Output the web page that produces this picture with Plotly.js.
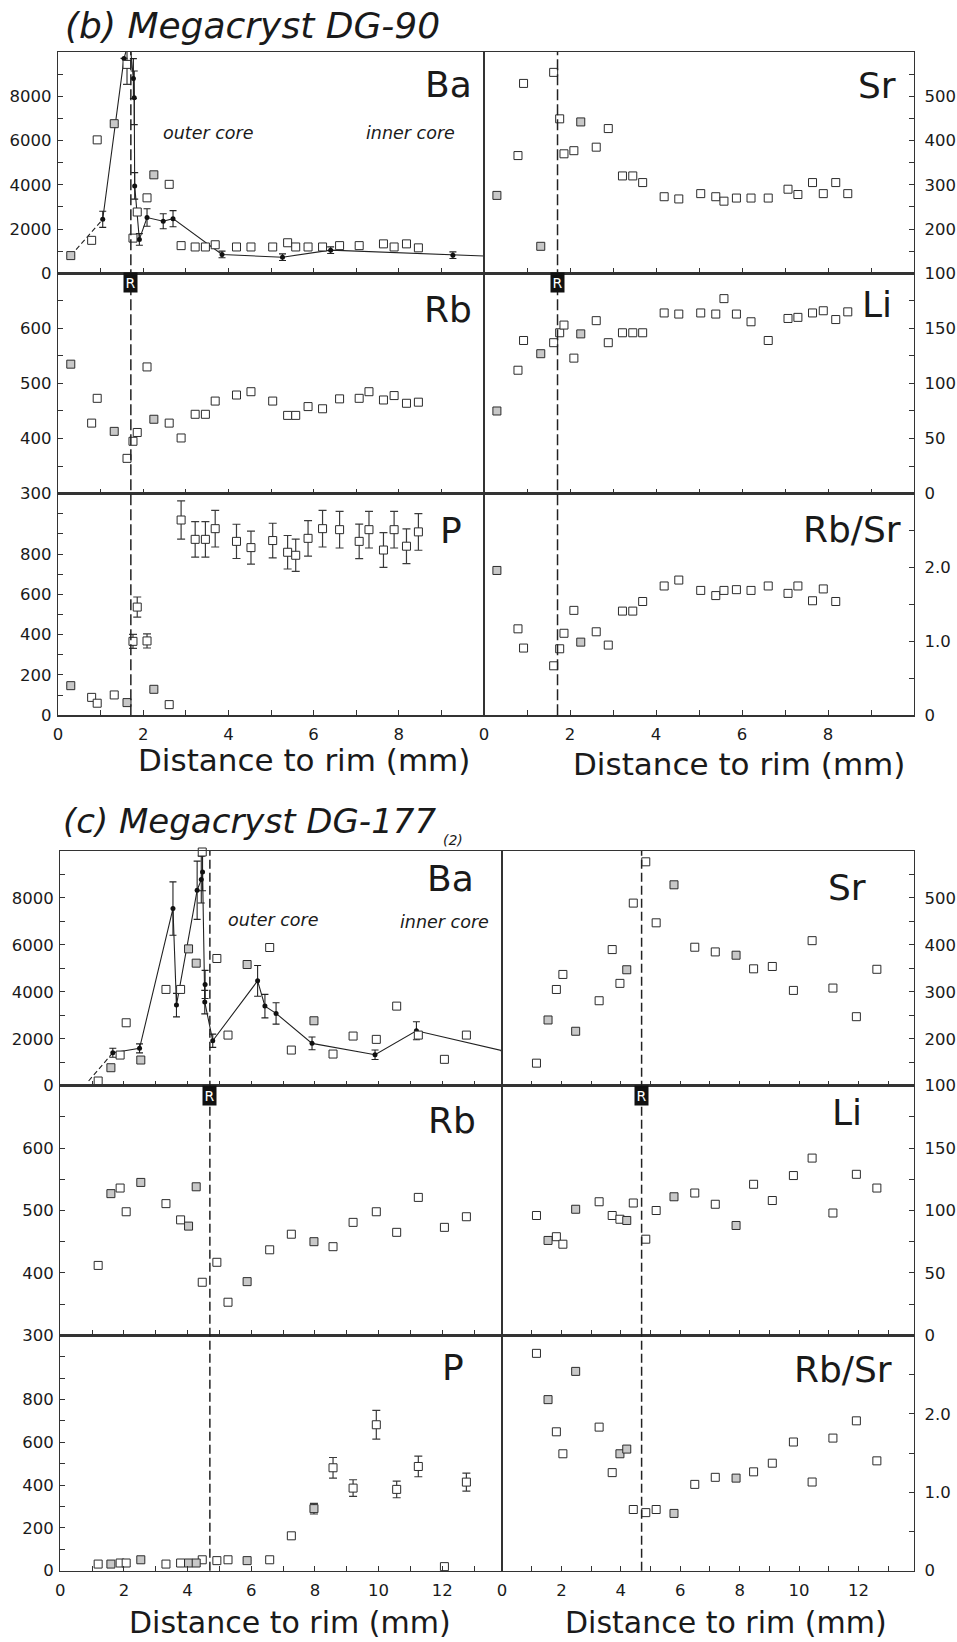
<!DOCTYPE html>
<html><head><meta charset="utf-8">
<script src="https://cdn.plot.ly/plotly-3.0.1.min.js"></script>
<style>html,body{margin:0;padding:0;background:#fff}</style>
</head><body><div id="chart" style="width:957px;height:1642px"></div>
<script>
// ---------------- (b) Megacryst DG-90 ----------------
const xB = [0.30,0.79,0.92,1.32,1.62,1.76,1.86,2.09,2.25,2.61,2.89,3.22,3.46,3.69,4.19,4.53,5.04,5.39,5.58,5.87,6.21,6.61,7.07,7.30,7.64,7.89,8.18,8.46];
const baB = [800,1490,6030,6760,9440,1590,2770,3410,4450,4020,1250,1190,1190,1290,1190,1190,1190,1380,1190,1190,1190,1250,1250,null,1330,1190,1330,1150];
const baBErr = [0,0,0,0,900,0,0,0,0,0,0,0,0,0,0,0,0,0,0,0,0,0,0,0,0,0,0,0];
const srB = [276,366,529,161,554,449,370,377,442,385,427,320,320,305,273,268,280,273,263,270,270,270,290,278,305,280,305,280];
const rbB = [535,428,473,413,364,395,411,530,435,428,401,444,444,468,479,485,468,442,442,458,454,472,473,485,470,478,464,466];
const liB = [75,112,139,127,137,146,153,123,145,157,137,146,146,146,164,163,164,163,177,163,156,139,159,160,164,166,158,165];
const pB = [147,89,60,101,63,367,537,369,129,53,969,873,873,926,863,832,867,809,794,878,926,921,863,921,820,921,839,910];
const pBErr = [0,0,0,0,0,35,50,35,0,0,95,88,88,91,85,82,86,83,80,88,91,91,86,91,86,91,86,91];
const rbsrB = [1.96,1.17,0.91,null,0.67,0.90,1.11,1.42,0.99,1.13,0.95,1.41,1.41,1.54,1.75,1.83,1.69,1.62,1.69,1.70,1.69,1.75,1.65,1.75,1.55,1.71,1.54,null];
const grayB = [0,3,8];
const grayBP = [0,4,8];
const grayBRbSr = [0,8];
// Ba profile (dots + line) for (b)
const baLineXB = [1.05,1.55,1.68,1.77,1.79,1.80,1.91,2.09,2.47,2.70,3.85,5.27,6.40,9.27,10.3];
const baLineYB = [2440,9710,10600,8800,7930,3950,1530,2520,2350,2470,850,727,1045,818,760];
const baLineErrB = [364,0,0,900,1210,600,265,394,340,364,150,150,150,150,0];
const baDashXB = [0.30,1.05];
const baDashYB = [800,2440];
const rimB = 1.71;

// ---------------- (c) Megacryst DG-177(2) ----------------
const xCL = [1.19,1.59,1.88,2.07,2.53,3.32,3.78,4.03,4.27,4.46,4.92,5.27,5.87,6.58,7.26,7.97,8.57,9.20,9.93,10.57,11.25,12.07,12.76];
const xCR = [1.16,1.55,1.83,2.05,2.48,3.27,3.71,3.97,4.20,4.42,4.84,5.19,5.79,6.49,7.18,7.88,8.47,9.10,9.81,10.44,11.14,11.93,12.62];
const baC = [200,766,1306,2681,1094,4102,4102,5829,5221,9957,5420,2157,5164,5888,1519,2766,1349,2115,1974,3391,2157,1123,2157];
const srC = [148,240,305,337,216,281,390,318,347,489,577,447,528,395,385,378,349,354,303,409,308,247,348];
const rbC = [412,527,536,498,545,511,485,475,538,385,417,353,386,437,462,450,442,481,498,465,521,473,490];
const liC = [96,76,79,73,101,107,96,93,92,106,77,100,111,114,105,88,121,108,128,142,98,129,118];
const pC = [31,31,36,36,51,31,36,36,36,51,47,51,47,51,163,290,481,386,682,380,487,19,414];
const pCErr = [0,0,0,0,0,0,0,0,0,0,0,0,0,0,0,25,48,39,67,39,48,0,42];
const rbsrC = [2.77,2.18,1.77,1.49,2.54,1.83,1.25,1.49,1.55,0.78,0.74,0.78,0.73,1.10,1.19,1.18,1.26,1.37,1.64,1.13,1.69,1.91,1.40];
const grayC = [1,4,7,8,12,15];
const grayCSrLi = [1,4,8,12,15];
const baLineXC = [1.65,2.49,3.54,3.65,4.30,4.43,4.47,4.55,4.54,4.79,6.20,6.43,6.78,7.91,9.89,11.19,13.95];
const baLineYC = [1404,1591,7548,3434,8327,8782,9106,4314,3561,1915,4468,3391,3080,1804,1319,2340,1470];
const baLineErrC = [191,191,1135,500,1240,1000,800,600,500,284,655,500,455,270,200,384,0];
const baDashXC = [0.89,1.65];
const baDashYC = [200,1404];
const rimC = 4.70;

// ---------------- tick labels ----------------
const baTickVals = [0,1000,2000,3000,4000,5000,6000,7000,8000,9000];
const baTickText = ['0','','2000','','4000','','6000','','8000',''];
const rbTickVals = [300,350,400,450,500,550,600,650];
const rbTickText = ['300','','400','','500','','600',''];
const pTickVals = [0,100,200,300,400,500,600,700,800,900,1000];
const pTickText = ['0','','200','','400','','600','','800','',''];
const srTickVals = [100,150,200,250,300,350,400,450,500,550];
const srTickText = ['100','','200','','300','','400','','500',''];
const liTickVals = [0,25,50,75,100,125,150,175];
const liTickText = ['0','','50','','100','','150',''];
const rbsrTickVals = [0,0.5,1.0,1.5,2.0,2.5];
const rbsrTickText = ['0','','1.0','','2.0',''];
const xTickValsB = [0,1,2,3,4,5,6,7,8,9];
const xTickTextB = ['0','','2','','4','','6','','8',''];
const xTickValsC = [0,1,2,3,4,5,6,7,8,9,10,11,12,13];
const xTickTextC = ['0','','2','','4','','6','','8','','10','','12',''];

// ---------------- layout helpers ----------------
const W = 957, H = 1642;
const FONT = 'DejaVu Sans';
const LINE = '#333';
const px = p => p / W;
const py = p => 1 - p / H;

const geomB = {L:[58,484], R:[484,914], rows:[[52,273.3],[273.3,493.6],[493.6,715.3]]};
const geomC = {L:[60.3,501.7], R:[502,914], rows:[[851,1085.7],[1085.7,1335.3],[1335.3,1570.7]]};

const traces = [];
const layout = {
  width: W, height: H, margin:{l:0,r:0,t:0,b:0}, paper_bgcolor:'#fff', plot_bgcolor:'rgba(0,0,0,0)',
  showlegend:false, shapes:[], annotations:[], font:{family:FONT, color:'#1a1a1a'}
};

function axName(i){ return i===1 ? '' : String(i); }

function addPanel(i, g, col, row, xr, xtv, xtt, yr, ytv, ytt, xs, vals, grayIdx, errs) {
  const n = axName(i);
  const cx = g[col], ry = g.rows[row];
  layout['xaxis'+n] = {
    domain:[px(cx[0]), px(cx[1])], range:xr, anchor:'y'+n,
    tickmode:'array', tickvals:xtv, ticktext:xtt, ticks:'inside', ticklen:5, tickwidth:1, tickcolor:LINE,
    showline:true, linecolor:LINE, linewidth:1.3, mirror:true, showgrid:false, zeroline:false,
    showticklabels: row===2, tickfont:{family:FONT, size:16.5, color:'#1a1a1a'}, ticklabelstandoff:4,
    fixedrange:true
  };
  layout['yaxis'+n] = {
    domain:[py(ry[1]), py(ry[0])], range:yr, anchor:'x'+n, side: col==='L' ? 'left' : 'right',
    tickmode:'array', tickvals:ytv, ticktext:ytt, ticks:'inside', ticklen:5, tickwidth:1, tickcolor:LINE,
    showline:true, linecolor:LINE, linewidth:1.3, mirror:true, showgrid:false, zeroline:false,
    tickfont:{family:FONT, size:16.5, color:'#1a1a1a'}, ticklabelstandoff: col==='L' ? 2 : 6,
    fixedrange:true
  };
  const groups = [[false,'#ffffff'],[true,'#c8c8c8']];
  groups.forEach(([isGray, fill]) => {
    const X=[], Y=[], E=[];
    vals.forEach((v, k) => {
      if (v === null) return;
      if (grayIdx.includes(k) !== isGray) return;
      X.push(xs[k]); Y.push(v); if (errs) E.push(errs[k]);
    });
    const tr = {
      type:'scatter', mode:'markers', x:X, y:Y, xaxis:'x'+n, yaxis:'y'+n, cliponaxis:false,
      marker:{symbol:'square', size:8, color:fill, line:{color:'#2b2b2b', width:1}}, hoverinfo:'skip'
    };
    if (errs) tr.error_y = {type:'data', array:E, visible:true, color:'#3a3a3a', thickness:1.2, width:4};
    traces.push(tr);
  });
}

function addBaLine(i, lx, ly, le, dx, dy) {
  const n = axName(i);
  traces.push({type:'scatter', mode:'lines', x:dx, y:dy, xaxis:'x'+n, yaxis:'y'+n,
    line:{color:'#222', width:1.1, dash:'5px,3px'}, hoverinfo:'skip'});
  traces.push({type:'scatter', mode:'lines+markers', x:lx, y:ly, xaxis:'x'+n, yaxis:'y'+n,
    line:{color:'#222', width:1.1}, marker:{symbol:'circle', size:5, color:'#111'},
    error_y:{type:'data', array:le, visible:true, color:'#222', thickness:1.1, width:3.5}, hoverinfo:'skip'});
}

// (b)
addBaLine(1, baLineXB, baLineYB, baLineErrB, baDashXB, baDashYB);
addPanel(1, geomB, 'L', 0, [0,10], xTickValsB, xTickTextB, [0,10000], baTickVals, baTickText, xB, baB, grayB, baBErr);
addPanel(2, geomB, 'R', 0, [0,10], xTickValsB, xTickTextB, [100,600], srTickVals, srTickText, xB, srB, grayB, null);
addPanel(3, geomB, 'L', 1, [0,10], xTickValsB, xTickTextB, [300,700], rbTickVals, rbTickText, xB, rbB, grayB, null);
addPanel(4, geomB, 'R', 1, [0,10], xTickValsB, xTickTextB, [0,200], liTickVals, liTickText, xB, liB, grayB, null);
addPanel(5, geomB, 'L', 2, [0,10], xTickValsB, xTickTextB, [0,1100], pTickVals, pTickText, xB, pB, grayBP, pBErr);
addPanel(6, geomB, 'R', 2, [0,10], xTickValsB, xTickTextB, [0,3], rbsrTickVals, rbsrTickText, xB, rbsrB, grayBRbSr, null);
// (c)
addBaLine(7, baLineXC, baLineYC, baLineErrC, baDashXC, baDashYC);
addPanel(7, geomC, 'L', 0, [0,13.87], xTickValsC, xTickTextC, [0,10000], baTickVals, baTickText, xCL, baC, grayC, null);
addPanel(8, geomC, 'R', 0, [0,13.87], xTickValsC, xTickTextC, [100,600], srTickVals, srTickText, xCR, srC, grayCSrLi, null);
addPanel(9, geomC, 'L', 1, [0,13.87], xTickValsC, xTickTextC, [300,700], rbTickVals, rbTickText, xCL, rbC, grayC, null);
addPanel(10, geomC, 'R', 1, [0,13.87], xTickValsC, xTickTextC, [0,200], liTickVals, liTickText, xCR, liC, grayCSrLi, null);
addPanel(11, geomC, 'L', 2, [0,13.87], xTickValsC, xTickTextC, [0,1100], pTickVals, pTickText, xCL, pC, grayC, pCErr);
addPanel(12, geomC, 'R', 2, [0,13.87], xTickValsC, xTickTextC, [0,3], rbsrTickVals, rbsrTickText, xCR, rbsrC, grayC, null);

// rim dashed lines + R markers
function rimLine(xref, xv, top, bottom, dash) {
  layout.shapes.push({type:'line', xref:xref, yref:'paper', x0:xv, x1:xv, y0:py(bottom), y1:py(top),
    line:{color:'#222', width:1.5, dash:dash}, layer:'above'});
}
rimLine('x', rimB, 52, 715.3, '11px,4px'); rimLine('x2', rimB, 52, 715.3, '11px,4px');
rimLine('x7', rimC, 851, 1570.7, '9px,4px'); rimLine('x8', rimC, 851, 1570.7, '9px,4px');

function rBox(xref, xv, yc) {
  layout.annotations.push({xref:xref, yref:'paper', x:xv, y:py(yc), text:'R', showarrow:false,
    font:{family:FONT, size:14, color:'#fff'}, bgcolor:'#111', borderpad:1.5, xanchor:'center', yanchor:'middle'});
}
rBox('x3', rimB, 282.7); rBox('x4', rimB, 282.7);
rBox('x9', rimC, 1095); rBox('x10', rimC, 1095);

function txt(text, x, y, size, xanchor, italic) {
  layout.annotations.push({xref:'paper', yref:'paper', x:px(x), y:py(y), text: italic ? '<i>'+text+'</i>' : text,
    showarrow:false, font:{family:FONT, size:size, color:'#1a1a1a'}, xanchor:xanchor, yanchor:'middle', borderpad:0});
}
// element labels
txt('Ba', 473, 85, 36, 'right'); txt('Sr', 897, 86, 36, 'right');
txt('Rb', 473, 309, 36, 'right'); txt('Li', 893, 305, 36, 'right');
txt('P', 463, 530, 36, 'right'); txt('Rb/Sr', 902, 529, 36, 'right');
txt('Ba', 475, 878, 36, 'right'); txt('Sr', 867, 887, 36, 'right');
txt('Rb', 477, 1120, 36, 'right'); txt('Li', 863, 1112, 36, 'right');
txt('P', 465, 1367, 36, 'right'); txt('Rb/Sr', 893, 1369, 36, 'right');
// zone labels
txt('outer core', 162, 133, 17.5, 'left', true); txt('inner core', 365, 133, 17.5, 'left', true);
txt('outer core', 227, 920, 17.5, 'left', true); txt('inner core', 399, 922, 17.5, 'left', true);
// titles
txt('(b) Megacryst DG-90', 64, 25, 36, 'left', true);
txt('(c) Megacryst DG-177', 62, 821, 34, 'left', true);
txt('(2)', 442, 840, 14, 'left', true);
// x axis titles
txt('Distance to rim (mm)', 304, 760, 31, 'center');
txt('Distance to rim (mm)', 739, 764, 31, 'center');
txt('Distance to rim (mm)', 290, 1622, 30, 'center');
txt('Distance to rim (mm)', 726, 1622, 30, 'center');

Plotly.newPlot('chart', traces, layout, {staticPlot:true, displayModeBar:false});
</script></body></html>
